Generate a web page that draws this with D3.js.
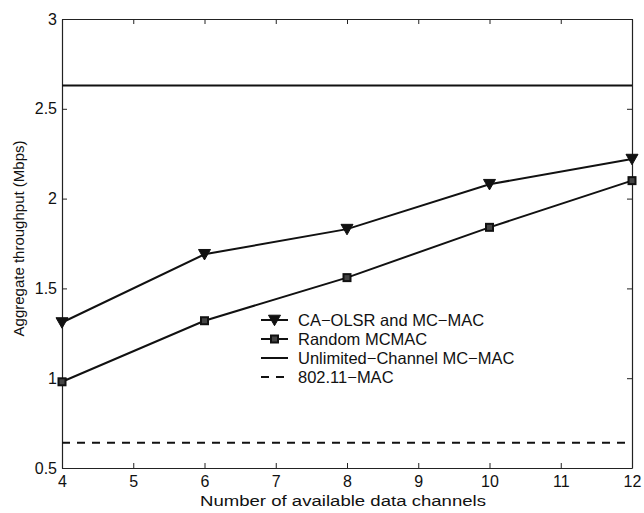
<!DOCTYPE html>
<html>
<head>
<meta charset="utf-8">
<script src="https://cdn.jsdelivr.net/npm/d3@7"></script>
<style>
  body { margin: 0; background: #fff; }
  text { font-family: "Liberation Sans", Arial, sans-serif; fill: #111; }
</style>
</head>
<body>
<svg width="644" height="513"></svg>
<script>
// data
const channels = [4, 6, 8, 10, 12];
const caOlsr = [1.31, 1.69, 1.83, 2.08, 2.22];
const randomMcmac = [0.98, 1.32, 1.56, 1.84, 2.10];
const unlimitedLevel = 2.63;
const dot11Level = 0.64;

const xTicks = [4, 5, 6, 7, 8, 9, 10, 11, 12];
const yTicks = [0.5, 1, 1.5, 2, 2.5, 3];
const legendLabels = ['CA\u2212OLSR and MC\u2212MAC', 'Random MCMAC', 'Unlimited\u2212Channel MC\u2212MAC', '802.11\u2212MAC'];

const margin = { left: 62, top: 19, right: 632, bottom: 468 };
const svg = d3.select('svg');

const x = d3.scaleLinear().domain([4, 12]).range([margin.left, margin.right]);
const y = d3.scaleLinear().domain([0.5, 3]).range([margin.bottom, margin.top]);

// box + inward ticks
const axisColor = '#222';
const tickLen = 5;
const g = svg.append('g');

const bottomAxis = d3.axisBottom(x).tickValues(xTicks).tickSizeInner(-tickLen).tickSizeOuter(0).tickPadding(8).tickFormat(d3.format('d'));
const leftAxis = d3.axisLeft(y).tickValues(yTicks).tickSizeInner(-tickLen).tickSizeOuter(0).tickPadding(5).tickFormat(d => d);
const topAxis = d3.axisTop(x).tickValues(xTicks).tickSizeInner(-tickLen).tickSizeOuter(0).tickFormat('');
const rightAxis = d3.axisRight(y).tickValues(yTicks).tickSizeInner(-tickLen).tickSizeOuter(0).tickFormat('');

g.append('g').attr('transform', `translate(0,${margin.bottom})`).call(bottomAxis);
g.append('g').attr('transform', `translate(${margin.left},0)`).call(leftAxis);
g.append('g').attr('transform', `translate(0,${margin.top})`).call(topAxis);
g.append('g').attr('transform', `translate(${margin.right},0)`).call(rightAxis);

g.selectAll('.domain').attr('stroke', axisColor).attr('stroke-width', 1.2);
g.selectAll('.tick line').attr('stroke', axisColor).attr('stroke-width', 1);
g.selectAll('.tick text').attr('font-size', 16).attr('font-family', '"Liberation Sans", Arial, sans-serif').attr('fill', '#111');

// axis titles
svg.append('text')
  .attr('x', 343)
  .attr('y', 506)
  .attr('text-anchor', 'middle')
  .attr('font-size', 15.5)
  .attr('textLength', 286)
  .attr('lengthAdjust', 'spacingAndGlyphs')
  .text('Number of available data channels');

svg.append('text')
  .attr('transform', `translate(24,${(margin.top + margin.bottom) / 2 - 5}) rotate(-90)`)
  .attr('text-anchor', 'middle')
  .attr('font-size', 15)
  .text('Aggregate throughput (Mbps)');

// reference levels
svg.append('line')
  .attr('x1', x(4)).attr('x2', x(12))
  .attr('y1', y(unlimitedLevel)).attr('y2', y(unlimitedLevel))
  .attr('stroke', '#111').attr('stroke-width', 2);

svg.append('line')
  .attr('x1', x(4)).attr('x2', x(12))
  .attr('y1', y(dot11Level)).attr('y2', y(dot11Level))
  .attr('stroke', '#111').attr('stroke-width', 2)
  .attr('stroke-dasharray', '8,7');

const line = d3.line().x((d, i) => x(channels[i])).y(d => y(d));

function triangle(sel, cx, cy, s) {
  sel.append('path')
    .attr('d', `M${cx - s},${cy - s * 0.8}L${cx + s},${cy - s * 0.8}L${cx},${cy + s * 0.95}Z`)
    .attr('fill', '#111').attr('stroke', '#111').attr('stroke-width', 1);
}
function square(sel, cx, cy, s) {
  sel.append('rect')
    .attr('x', cx - s).attr('y', cy - s).attr('width', 2 * s).attr('height', 2 * s)
    .attr('fill', '#444').attr('stroke', '#111').attr('stroke-width', 2);
}

svg.append('path').datum(caOlsr).attr('d', line)
  .attr('fill', 'none').attr('stroke', '#111').attr('stroke-width', 2);
svg.append('path').datum(randomMcmac).attr('d', line)
  .attr('fill', 'none').attr('stroke', '#111').attr('stroke-width', 2);

const marks = svg.append('g');
caOlsr.forEach((v, i) => triangle(marks, x(channels[i]), y(v), 6));
randomMcmac.forEach((v, i) => square(marks, x(channels[i]), y(v), 3.5));

// legend
const legend = svg.append('g');
const lx0 = 261, lx1 = 288, ly0 = 320, lstep = 19;
legendLabels.forEach((label, i) => {
  const ly = ly0 + i * lstep;
  const ln = legend.append('line')
    .attr('x1', lx0).attr('x2', lx1).attr('y1', ly).attr('y2', ly)
    .attr('stroke', '#111').attr('stroke-width', 2);
  if (i === 3) ln.attr('stroke-dasharray', '8,7');
  if (i === 0) triangle(legend, (lx0 + lx1) / 2, ly, 6);
  if (i === 1) square(legend, (lx0 + lx1) / 2, ly, 3.5);
  legend.append('text')
    .attr('x', 298).attr('y', ly + 6)
    .attr('font-size', 16.5)
    .text(label);
});
</script>
</body>
</html>
